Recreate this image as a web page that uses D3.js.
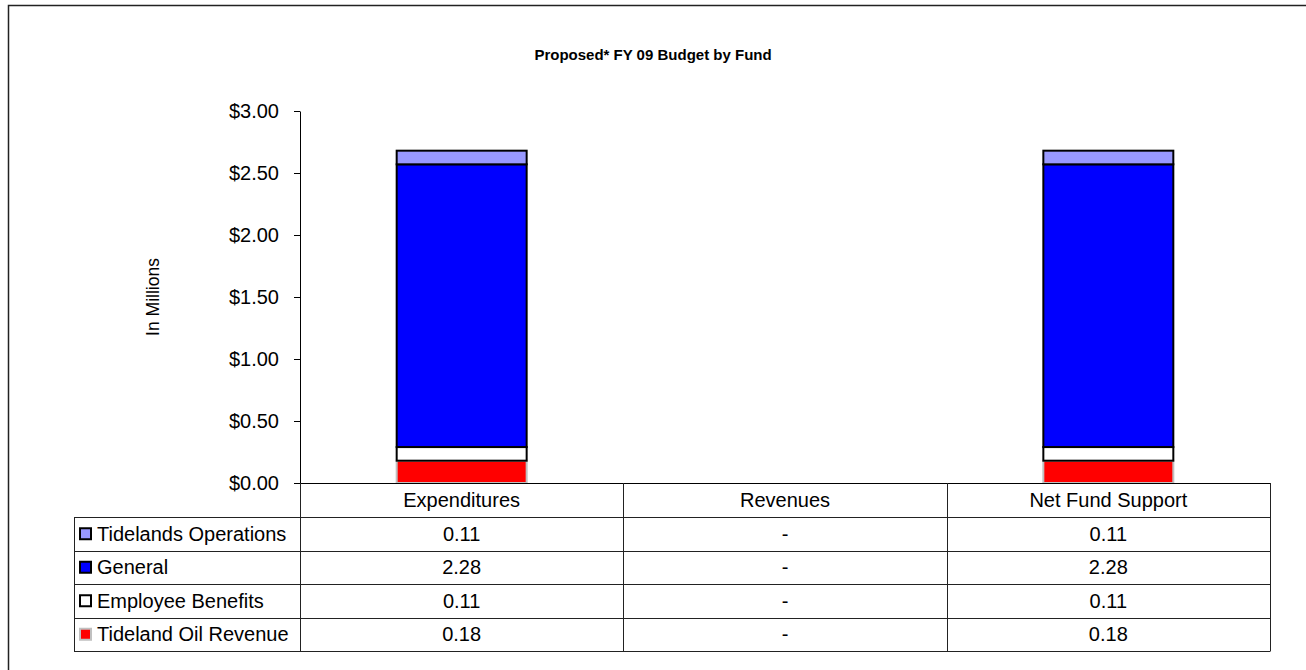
<!DOCTYPE html>
<html>
<head>
<meta charset="utf-8">
<script src="https://cdn.jsdelivr.net/npm/d3@7"></script>
<style>
  body { margin: 0; background: #fff; }
  text { font-family: "Liberation Sans", Arial, sans-serif; fill: #000; }
</style>
</head>
<body>
<div id="chart-area"></div>
<script>
// chart data
const categories = ["Expenditures", "Revenues", "Net Fund Support"];
const seriesNames = ["Tidelands Operations", "General", "Employee Benefits", "Tideland Oil Revenue"];
const tidelandsOps = [0.11, 0, 0.11];
const general = [2.28, 0, 2.28];
const employeeBenefits = [0.11, 0, 0.11];
const tidelandOil = [0.18, 0, 0.18];
const yTicks = [0, 0.5, 1, 1.5, 2, 2.5, 3];

const seriesValues = [tidelandsOps, general, employeeBenefits, tidelandOil];
const fills = ["#9999ff", "#0000ff", "#ffffff", "#ff0000"];
const strokes = ["#000", "#000", "#000", "#c0c0c0"];

const W = 1306, H = 670;
const margin = { left: 300, right: 36, top: 111, bottom: 187 };
const plotW = W - margin.left - margin.right,
    plotH = H - margin.top - margin.bottom;

var svg = d3.select("#chart-area")
    .append("svg")
    .attr("width", W)
    .attr("height", H);

// outer frame
svg.append("rect")
    .attr("x", 8.5).attr("y", 5.5)
    .attr("width", W + 20).attr("height", H + 20)
    .attr("fill", "none")
    .attr("stroke", "#222")
    .attr("stroke-width", 1.5);

svg.append("text")
    .attr("x", 653).attr("y", 60)
    .attr("text-anchor", "middle")
    .attr("font-size", "15px")
    .attr("font-weight", "bold")
    .text("Proposed* FY 09 Budget by Fund");

const g = svg.append("g")
    .attr("transform", "translate(" + margin.left + ", " + margin.top + ")");

const y = d3.scaleLinear()
    .domain([0, 3])
    .range([plotH, 0]);

const x = d3.scaleBand()
    .domain(categories)
    .range([0, plotW]);

// stacked rows, bottom first
const rows = categories.map(function(c, i){
    const r = { cat: c };
    seriesNames.forEach(function(s, j){ r[s] = seriesValues[j][i]; });
    return r;
});
const stack = d3.stack().keys(seriesNames.slice().reverse());
const layers = stack(rows);

const barW = x.bandwidth() * 0.402;

layers.forEach(function(layer){
    const j = seriesNames.indexOf(layer.key);
    g.append("g").selectAll("rect")
        .data(layer.filter(function(d){ return d[1] - d[0] > 0; }))
        .enter()
        .append("rect")
            .attr("x", function(d){ return x(d.data.cat) + (x.bandwidth() - barW) / 2; })
            .attr("y", function(d){ return y(d[1]); })
            .attr("width", barW)
            .attr("height", function(d){ return y(d[0]) - y(d[1]); })
            .attr("fill", fills[j])
            .attr("stroke", strokes[j])
            .attr("stroke-width", 2);
});

// y axis
const yAxisCall = d3.axisLeft(y)
    .tickValues(yTicks)
    .tickSize(6)
    .tickPadding(15)
    .tickFormat(d3.format("$.2f"));
const yAxis = g.append("g")
    .attr("class", "y-axis")
    .call(yAxisCall);
yAxis.select(".domain").attr("d", "M0.5," + (plotH + 0.5) + "V0.5");
yAxis.selectAll("text").attr("font-size", "20px");
yAxis.selectAll("line").attr("stroke", "#000");

g.append("text")
    .attr("transform", "translate(-141," + (plotH / 2) + ") rotate(-90)")
    .attr("text-anchor", "middle")
    .attr("font-size", "17.5px")
    .text("In Millions");

// data table under the plot
const rowH = 33.5;
const headH = 34;
const tableLeft = 74 - margin.left;
const t = g.append("g").attr("transform", "translate(0," + plotH + ")");
const lineCol = "#222";

// horizontal lines
t.append("line").attr("x1", -6).attr("x2", plotW).attr("y1", 0.5).attr("y2", 0.5)
    .attr("stroke", "#000");
for (let i = 0; i <= seriesNames.length; i++) {
    const yy = Math.round(headH + i * rowH) + 0.5;
    t.append("line").attr("x1", tableLeft).attr("x2", plotW)
        .attr("y1", yy).attr("y2", yy).attr("stroke", lineCol);
}
// vertical lines
t.append("line").attr("x1", tableLeft + 0.5).attr("x2", tableLeft + 0.5)
    .attr("y1", headH).attr("y2", headH + 4 * rowH + 0.5).attr("stroke", lineCol);
categories.concat([null]).forEach(function(c, i){
    const xx = Math.round(i * x.bandwidth()) + 0.5;
    t.append("line").attr("x1", xx).attr("x2", xx)
        .attr("y1", 0).attr("y2", headH + 4 * rowH + 0.5).attr("stroke", lineCol);
});

// header
t.selectAll(".head").data(categories).enter().append("text")
    .attr("x", function(d){ return x(d) + x.bandwidth() / 2; })
    .attr("y", headH / 2 + 7)
    .attr("text-anchor", "middle")
    .attr("font-size", "20px")
    .text(function(d){ return d; });

const fmt = d3.format(".2f");
seriesNames.forEach(function(s, j){
    const cy = headH + j * rowH + rowH / 2;
    t.append("rect")
        .attr("x", tableLeft + 6).attr("y", cy - 5.5)
        .attr("width", 11).attr("height", 11)
        .attr("fill", fills[j])
        .attr("stroke", strokes[j])
        .attr("stroke-width", 2);
    t.append("text")
        .attr("x", tableLeft + 23).attr("y", cy + 7)
        .attr("font-size", "20px")
        .text(s);
    categories.forEach(function(c, i){
        const v = seriesValues[j][i];
        t.append("text")
            .attr("x", x(c) + x.bandwidth() / 2).attr("y", cy + 7)
            .attr("text-anchor", "middle")
            .attr("font-size", "20px")
            .text(v === 0 ? "-" : fmt(v));
    });
});
</script>
</body>
</html>
